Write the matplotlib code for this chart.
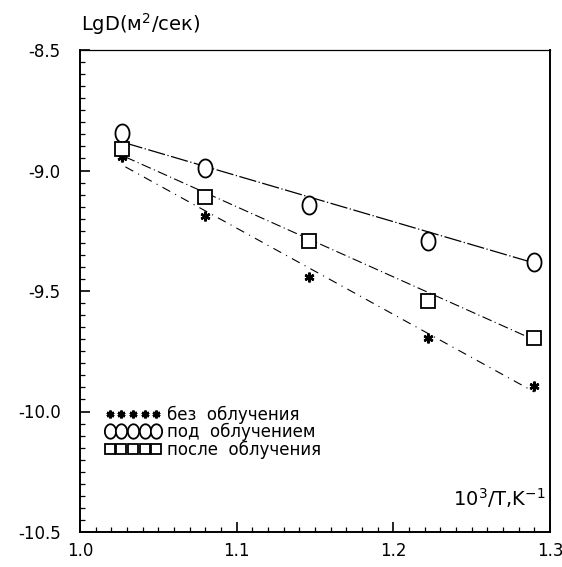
import numpy as np
import matplotlib.pyplot as plt
from matplotlib.path import Path
from matplotlib.ticker import MultipleLocator

# 10^3/T values of the measured points
inv_T = [1.027, 1.080, 1.146, 1.222, 1.290]

# LgD values
lgd_without = [-8.944, -9.189, -9.442, -9.695, -9.894]   # без облучения
lgd_under = [-8.844, -8.990, -9.143, -9.293, -9.380]     # под облучением
lgd_after = [-8.911, -9.110, -9.293, -9.541, -9.695]     # после облучения

# end points of the straight fit lines
fit_x = [1.029, 1.290]
fit_without = [-8.985, -9.919]
fit_under = [-8.886, -9.384]
fit_after = [-8.944, -9.703]

labels = ['без  облучения', 'под  облучением', 'после  облучения']


def main():
    fig = plt.figure(figsize=(5.62, 5.67), dpi=100)
    ax = fig.add_axes([80 / 562, 1 - 532 / 567, 470 / 562, 482 / 567])

    # slightly tall open circle, as in the scanned figure
    t = np.linspace(0, 2 * np.pi, 60)
    ellipse = Path(np.column_stack([0.78 * np.cos(t), np.sin(t)]), closed=True)

    # fit lines
    ax.plot(fit_x, fit_under, color='black', lw=0.9, dashes=(14, 2, 1, 2))
    ax.plot(fit_x, fit_after, color='black', lw=0.8, dashes=(9, 3, 1, 3))
    ax.plot(fit_x, fit_without, color='black', lw=0.8, dashes=(8, 5, 1, 5))

    # points
    h1, = ax.plot(inv_T, lgd_without, ls='none', marker=(6, 2, 0), ms=7,
                  mec='black', mew=1.8)
    h2, = ax.plot(inv_T, lgd_under, ls='none', marker=ellipse, ms=13,
                  mfc='white', mec='black', mew=1.3)
    h3, = ax.plot(inv_T, lgd_after, ls='none', marker='s', ms=9.5,
                  mfc='white', mec='black', mew=1.3)

    leg = ax.legend([h1, h2, h3], labels, loc='lower left',
                    bbox_to_anchor=(0.035, 0.135), frameon=False, numpoints=5,
                    handlelength=3.4, handletextpad=0.35, labelspacing=-0.05,
                    borderpad=0, markerscale=0.8,
                    prop={'family': 'DejaVu Sans', 'size': 12})

    ax.set_xlim(1.0, 1.3)
    ax.set_ylim(-10.5, -8.5)
    ax.xaxis.set_major_locator(MultipleLocator(0.1))
    ax.xaxis.set_minor_locator(MultipleLocator(0.01))
    ax.yaxis.set_major_locator(MultipleLocator(0.5))
    ax.yaxis.set_minor_locator(MultipleLocator(0.05))
    ax.xaxis.set_major_formatter(plt.FormatStrFormatter('%.1f'))
    ax.yaxis.set_major_formatter(plt.FormatStrFormatter('%.1f'))
    ax.tick_params(which='both', direction='in', top=False, right=False,
                   labelsize=12)
    ax.tick_params(which='major', length=7, width=1.2)
    ax.tick_params(which='minor', length=3.5, width=0.9)
    ax.tick_params(axis='y', which='major', pad=14)
    ax.tick_params(axis='x', which='major', pad=7)
    for side in ['left', 'bottom', 'right']:
        ax.spines[side].set_linewidth(1.4)
    ax.spines['top'].set_linewidth(0.9)

    ax.text(0.003, 1.027, 'LgD(м$^2$/сек)', transform=ax.transAxes,
            fontsize=14, ha='left', va='bottom')
    ax.text(0.99, 0.045, '10$^3$/T,K$^{-1}$', transform=ax.transAxes,
            fontsize=14, ha='right', va='bottom')

    fig.savefig('out.png', dpi=100)


if __name__ == "__main__":
    main()
